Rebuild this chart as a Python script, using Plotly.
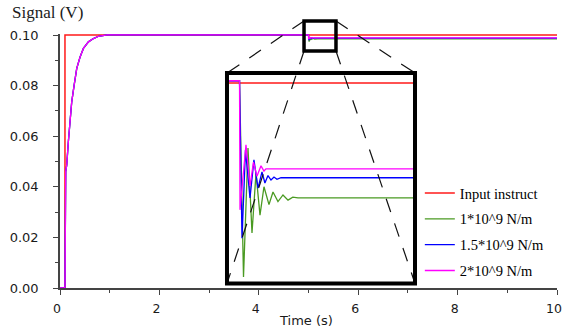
import plotly.graph_objects as go

# ---------------- data ----------------
series_names = ["Input instruct", "1*10^9 N/m", "1.5*10^9 N/m", "2*10^9 N/m"]
series_colors = ["#FF1A1A", "#4A9A22", "#0000FF", "#FF00FF"]

# input instruct (step)
input_t = [0.0, 0.1, 0.1, 10.0]
input_v = [0.0, 0.0, 0.1, 0.1]

# common rise of the three outputs (they overlap in the main view)
rise_t = [0.0, 0.1, 0.115, 0.135, 0.168, 0.2, 0.236, 0.283, 0.337, 0.404,
          0.471, 0.572, 0.673, 0.774, 0.95, 5.0]
rise_v = [0.0, 0.0, 0.046, 0.0485, 0.0578, 0.0644, 0.0736, 0.080, 0.0868, 0.0913,
          0.0947, 0.0973, 0.0986, 0.0995, 0.10003, 0.10003]

# disturbance response near t = 5 s (seen in the magnified inset)
k1_t = [5.0127, 5.027, 5.0398, 5.0525, 5.0653, 5.078, 5.094, 5.1068, 5.1227,
        5.1387, 5.1547, 5.17, 5.1866, 10.0]
k1_v = [0.0974, 0.09913, 0.09799, 0.09879, 0.09823, 0.09861, 0.09837, 0.09854,
        0.09841, 0.0985, 0.09843, 0.09847, 0.09846, 0.09846]

k15_t = [5.0079, 5.019, 5.0334, 5.046, 5.059, 5.0717, 5.081, 5.0908, 5.1004,
         5.11, 5.1195, 5.1323, 10.0]
k15_v = [0.09792, 0.0991, 0.09846, 0.09897, 0.09859, 0.09881, 0.09866, 0.09876,
         0.0987, 0.09874, 0.09871, 0.09873, 0.09873]

k2_t = [5.0015, 5.0206, 5.0334, 5.0446, 5.0557, 5.0685, 5.078, 5.0844, 10.0]
k2_v = [0.0983, 0.09917, 0.09862, 0.09894, 0.09875, 0.09889, 0.09882, 0.09885, 0.09885]

x_ticks = [0, 2, 4, 6, 8, 10]
y_ticks = [0.0, 0.02, 0.04, 0.06, 0.08, 0.10]
y_ticktext = ["0.00", "0.02", "0.04", "0.06", "0.08", "0.10"]

# main axes ranges
X_RANGE = [0, 10]
Y_RANGE = [0, 0.1004]
# magnified window (small box) and inset axes ranges
BOX_T = [4.91, 5.553]
BOX_V = [0.09368, 0.10553]
INSET_X_RANGE = [4.96, 5.56]
INSET_Y_RANGE = [0.097313, 0.100134]
INSET_DOM_X = [0.336, 0.7143]
INSET_DOM_Y = [0.0177, 0.8465]

outputs = [
    (series_names[1], series_colors[1], rise_t + k1_t, rise_v + k1_v),
    (series_names[2], series_colors[2], rise_t + k15_t, rise_v + k15_v),
    (series_names[3], series_colors[3], rise_t + k2_t, rise_v + k2_v),
]

fig = go.Figure()

# main plot
fig.add_trace(go.Scatter(x=input_t, y=input_v, mode="lines", name=series_names[0],
                         line=dict(color=series_colors[0], width=1.5),
                         legendgroup="g0"))
for i, (nm, col, tt, vv) in enumerate(outputs):
    fig.add_trace(go.Scatter(x=tt, y=vv, mode="lines", name=nm,
                             line=dict(color=col, width=1.3),
                             legendgroup="g%d" % (i + 1)))

# inset (same data, magnified)
fig.add_trace(go.Scatter(x=input_t, y=input_v, mode="lines", showlegend=False,
                         line=dict(color=series_colors[0], width=1.5),
                         xaxis="x2", yaxis="y2"))
for nm, col, tt, vv in outputs:
    fig.add_trace(go.Scatter(x=tt, y=vv, mode="lines", showlegend=False,
                             line=dict(color=col, width=1.3),
                             xaxis="x2", yaxis="y2"))


def px(t):
    return (t - X_RANGE[0]) / (X_RANGE[1] - X_RANGE[0])


def py(v):
    return (v - Y_RANGE[0]) / (Y_RANGE[1] - Y_RANGE[0])


bx0, bx1 = px(BOX_T[0]), px(BOX_T[1])
by0, by1 = py(BOX_V[0]), py(BOX_V[1])
ix0, ix1 = INSET_DOM_X
iy0, iy1 = INSET_DOM_Y

dash_style = dict(color="#111111", width=1.2, dash="14px,12px")
shapes = [
    dict(type="line", xref="paper", yref="paper", x0=bx0, y0=by1, x1=ix0, y1=iy1,
         line=dash_style, layer="above"),
    dict(type="line", xref="paper", yref="paper", x0=bx1, y0=by1, x1=ix1, y1=iy1,
         line=dash_style, layer="above"),
    dict(type="line", xref="paper", yref="paper", x0=bx0, y0=by0, x1=ix0, y1=iy0,
         line=dash_style, layer="above"),
    dict(type="line", xref="paper", yref="paper", x0=bx1, y0=by0, x1=ix1, y1=iy0,
         line=dash_style, layer="above"),
    dict(type="rect", xref="paper", yref="paper", x0=bx0, y0=by0, x1=bx1, y1=by1,
         line=dict(color="black", width=3.5), layer="above"),
    dict(type="rect", xref="paper", yref="paper", x0=ix0, y0=iy0, x1=ix1, y1=iy1,
         line=dict(color="black", width=4), layer="above"),
]

axis_font = dict(family="DejaVu Sans", size=13, color="#1a1a1a")
xaxis_font = dict(family="DejaVu Sans", size=12.5, color="#1a1a1a")

fig.update_layout(
    width=562, height=333,
    margin=dict(l=60, r=5, t=34, b=45, autoexpand=False),
    paper_bgcolor="white", plot_bgcolor="white",
    showlegend=True,
    legend=dict(x=0.724, y=0.437, xanchor="left", yanchor="top",
                font=dict(family="Liberation Serif", size=14.5, color="black"),
                bgcolor="rgba(0,0,0,0)", borderwidth=0, tracegroupgap=4),
    xaxis=dict(range=X_RANGE, tickvals=x_ticks, showgrid=False, zeroline=False,
               automargin=False,
               showline=True, linecolor="#444", linewidth=1.6,
               ticks="outside", ticklen=5, tickwidth=1.3, tickcolor="#444",
               tickfont=xaxis_font, ticklabelstandoff=3, ticklabelshift=-3,
               ticklabeloverflow="allow",
               minor=dict(dtick=1, tick0=0, ticks="outside", ticklen=3,
                          tickwidth=1.2, tickcolor="#444")),
    yaxis=dict(range=Y_RANGE, tickvals=y_ticks, ticktext=y_ticktext,
               showgrid=False, zeroline=False, automargin=False,
               showline=True, linecolor="#444", linewidth=1.6,
               ticks="outside", ticklen=5, tickwidth=1.3, tickcolor="#444",
               tickfont=axis_font, ticklabelstandoff=12, ticklabeloverflow="allow",
               minor=dict(dtick=0.01, tick0=0, ticks="outside", ticklen=3,
                          tickwidth=1.2, tickcolor="#444")),
    xaxis2=dict(domain=INSET_DOM_X, range=INSET_X_RANGE, anchor="y2",
                visible=False, showgrid=False, zeroline=False),
    yaxis2=dict(domain=INSET_DOM_Y, range=INSET_Y_RANGE, anchor="x2",
                visible=False, showgrid=False, zeroline=False),
    shapes=shapes,
    annotations=[
        dict(text="Time (s)", xref="paper", yref="paper", x=0.495, y=-0.126,
             xanchor="center", yanchor="middle", showarrow=False,
             font=dict(family="DejaVu Sans", size=13, color="#1a1a1a")),
        dict(text="Signal (V)", xref="paper", yref="paper", x=-0.1006, y=1.0827,
             xanchor="left", yanchor="middle", showarrow=False,
             font=dict(family="Liberation Serif", size=17, color="#1a1a1a")),
    ],
)

fig.write_html("out.html")
